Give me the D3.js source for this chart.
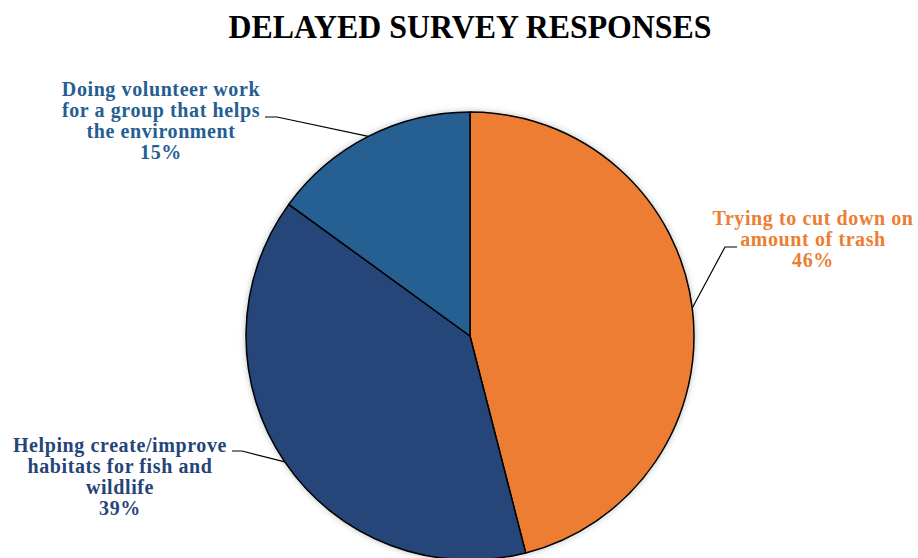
<!DOCTYPE html>
<html>
<head>
<meta charset="utf-8">
<script src="https://cdn.jsdelivr.net/npm/d3@7"></script>
<style>
  body { margin: 0; background: #fff; }
  svg { display: block; }
</style>
</head>
<body>
<svg></svg>
<script>
const width = 918;
const height = 558;
const radius = 224;

// data
const categories = [
    "Trying to cut down on amount of trash",
    "Helping create/improve habitats for fish and wildlife",
    "Doing volunteer work for a group that helps the environment"
];
const values = [46, 39, 15];
const labelLines = [
    ["Trying to cut down on", "amount of trash"],
    ["Helping create/improve", "habitats for fish and", "wildlife"],
    ["Doing volunteer work", "for a group that helps", "the environment"]
];
const colors = ["#ED7D31", "#264478", "#255E91"];

// label layout: text centre x, first baseline y, elbow point
const labelPos = [
    { x: 813, y: 225, elbowFrom: [737, 247], elbowTo: [725, 247] },
    { x: 120, y: 452, elbowFrom: [232, 451], elbowTo: [242, 451] },
    { x: 161, y: 96,  elbowFrom: [265, 117], elbowTo: [277, 117] }
];

const svg = d3.select("svg")
    .attr("width", width)
    .attr("height", height)
    .style("font-family", "'Liberation Serif', 'Times New Roman', serif");

const defs = svg.append("defs");
const shadow = defs.append("filter")
    .attr("id", "shadow")
    .attr("x", "-10%").attr("y", "-10%")
    .attr("width", "120%").attr("height", "120%");
shadow.append("feDropShadow")
    .attr("dx", 0).attr("dy", 0)
    .attr("stdDeviation", 3)
    .attr("flood-color", "#000")
    .attr("flood-opacity", 0.25);

svg.append("text")
    .attr("x", 470)
    .attr("y", 38)
    .attr("text-anchor", "middle")
    .attr("textLength", 483)
    .attr("lengthAdjust", "spacingAndGlyphs")
    .style("font-size", "34px")
    .style("font-weight", "bold")
    .attr("fill", "#000")
    .text("DELAYED SURVEY RESPONSES");

const g = svg.append("g")
    .attr("transform", `translate(470,336)`);

const pie = d3.pie().sort(null).value(d => d);
const arcs = pie(values);
const arc = d3.arc().innerRadius(0).outerRadius(radius);

g.append("g")
    .attr("filter", "url(#shadow)")
    .selectAll("path")
    .data(arcs)
    .enter().append("path")
    .attr("d", arc)
    .attr("fill", (d, i) => colors[i])
    .attr("stroke", "#000")
    .attr("stroke-width", 1.5)
    .attr("stroke-linejoin", "round");

// leader lines: elbow -> slice mid-angle on the edge
const edge = d3.arc().innerRadius(radius).outerRadius(radius);
arcs.forEach((d, i) => {
    const p = labelPos[i];
    const c = edge.centroid(d);
    svg.append("polyline")
        .attr("points", [p.elbowFrom, p.elbowTo, [c[0] + 470, c[1] + 336]].map(q => q.join(",")).join(" "))
        .attr("fill", "none")
        .attr("stroke", "#000")
        .attr("stroke-width", 1.2);

    const lines = labelLines[i].concat([values[i] + "%"]);
    const t = svg.append("text")
        .attr("text-anchor", "middle")
        .attr("fill", colors[i])
        .style("font-size", "20px")
        .style("letter-spacing", "0.6px")
        .style("font-weight", "bold");
    lines.forEach((l, j) => {
        t.append("tspan")
            .attr("x", p.x)
            .attr("y", p.y + j * 21)
            .text(l);
    });
});
</script>
</body>
</html>
